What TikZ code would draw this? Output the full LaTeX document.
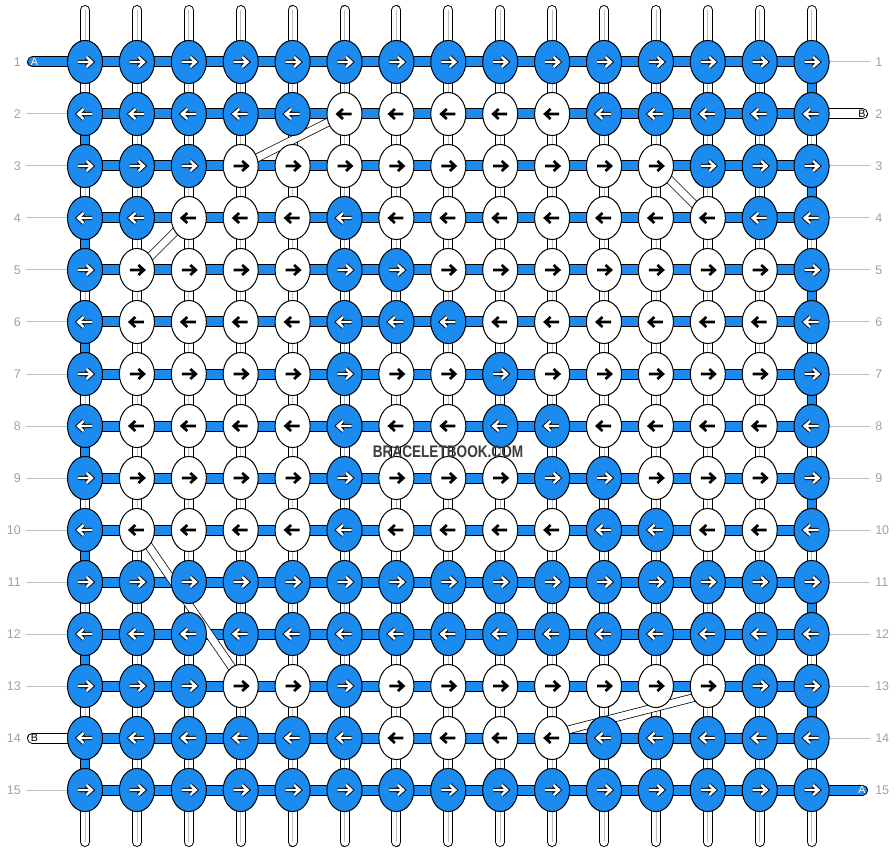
\documentclass[tikz,border=0pt]{standalone}
\usepackage{fontspec}
\usepackage{graphicx}
\setmainfont{Liberation Sans}
\usetikzlibrary{calc,shapes.geometric}
\definecolor{knotblue}{RGB}{28,139,240}
\definecolor{numgrey}{RGB}{160,160,160}
\definecolor{rulegrey}{RGB}{190,190,190}
\definecolor{markgrey}{RGB}{60,60,60}
\tikzset{
  knot/.style={ellipse,draw=black,line width=0.75pt,minimum width=26.3pt,minimum height=32.3pt,inner sep=0pt},
  kb/.style={fill=knotblue},
  kw/.style={fill=white},
  arrb/.style={draw=black,line width=0.7pt,double=white,double distance=1.8pt},
  arrw/.style={draw=black,line width=2pt},
  vstring/.style={draw=black,line width=0.75pt,double=white,double distance=6pt,line cap=round},
  vlink/.style={draw=black,line width=0.75pt,double=knotblue,double distance=6pt},
  rowbar/.style={draw=black,line width=0.75pt,double=knotblue,double distance=6.75pt},
  rowtail/.style={draw=black,line width=0.75pt,double=#1,double distance=6.75pt,line cap=round},
  floatstrip/.style={draw=black,line width=0.55pt,double=white,double distance=5.3pt},
  rownum/.style={text=numgrey,font=\fontsize{9.4}{11}\selectfont,inner sep=0pt},
  tailtag/.style={font=\fontsize{8}{9}\selectfont,inner sep=0pt}
}
\begin{document}
\begin{tikzpicture}[x=0.75pt,y=-0.75pt,line join=miter]
\useasboundingbox (0,0) rectangle (896,852);
\foreach \r in {1,...,15}{
  \foreach \c in {1,...,15}{
    \coordinate (p-\r-\c) at ({85+51.9*(\c-1)},{62+52*(\r-1)});
  }
}
\foreach \c in {1,...,15}{
  \coordinate (top-\c) at ($(p-1-\c)+(0,-52)$);
  \coordinate (bot-\c) at ($(p-15-\c)+(0,52)$);
  \draw[vstring] (top-\c) -- (bot-\c);
  \draw[rulegrey,line width=0.6pt] (top-\c) -- (bot-\c);
}
\foreach \r in {1,...,15}{
  \node[rownum,anchor=east] (ln-\r) at (21,{62+52*(\r-1)}) {\r};
  \node[rownum,anchor=west] (rn-\r) at (875,{62+52*(\r-1)}) {\r};
  \coordinate (lg-\r) at (26,{62+52*(\r-1)});
  \coordinate (rg-\r) at (870,{62+52*(\r-1)});
  \ifnum\r>1 \ifnum\r=14 \else \draw[rulegrey,line width=0.75pt] (lg-\r) -- (p-\r-1); \fi\fi
  \ifnum\r=2 \else \ifnum\r=15 \else \draw[rulegrey,line width=0.75pt] (p-\r-15) -- (rg-\r); \fi\fi
}
\coordinate (tailA-in) at (32.5,62);
\coordinate (tailB-in) at (862.5,114);
\coordinate (tailB-out) at (32.5,738);
\coordinate (tailA-out) at (862.5,790);
\draw[rowtail=knotblue] (tailA-in) -- (p-1-1);
\draw[rowtail=white] (p-2-15) -- (tailB-in);
\draw[rowtail=white] (tailB-out) -- (p-14-1);
\draw[rowtail=knotblue] (p-15-15) -- (tailA-out);
\node[tailtag,text=white] (tagA-in) at (34.5,62) {A};
\node[tailtag] (tagB-in) at (862,114) {B};
\node[tailtag] (tagB-out) at (34.5,738) {B};
\node[tailtag,text=white] (tagA-out) at (862,790) {A};
\foreach \r in {1,...,15}{
  \foreach \c in {1,...,14}{
    \pgfmathtruncatemacro\nxt{\c+1}
    \draw[rowbar] (p-\r-\c) -- (p-\r-\nxt);
  }
}
\foreach \r in {1,3,...,13}{
  \pgfmathtruncatemacro\nxt{\r+1}
  \draw[vlink] (p-\r-15) -- (p-\nxt-15);
}
\foreach \r in {2,4,...,14}{
  \pgfmathtruncatemacro\nxt{\r+1}
  \draw[vlink] (p-\r-1) -- (p-\nxt-1);
}
\draw[floatstrip] (p-2-6) -- (p-3-4);
\draw[floatstrip] (p-3-12) -- (p-4-13);
\draw[floatstrip] (p-4-3) -- (p-5-2);
\draw[floatstrip] ($(p-10-2)+(5,6)$) -- ($(p-13-4)+(-3,-10)$);
\draw[floatstrip] ($(p-14-10)+(0,-4)$) -- ($(p-13-13)+(0,8)$);
\foreach \r/\pat in {
  1/{b,b,b,b,b,b,b,b,b,b,b,b,b,b,b},
  2/{b,b,b,b,b,w,w,w,w,w,b,b,b,b,b},
  3/{b,b,b,w,w,w,w,w,w,w,w,w,b,b,b},
  4/{b,b,w,w,w,b,w,w,w,w,w,w,w,b,b},
  5/{b,w,w,w,w,b,b,w,w,w,w,w,w,w,b},
  6/{b,w,w,w,w,b,b,b,w,w,w,w,w,w,b},
  7/{b,w,w,w,w,b,w,w,b,w,w,w,w,w,b},
  8/{b,w,w,w,w,b,w,w,b,b,w,w,w,w,b},
  9/{b,w,w,w,w,b,w,w,w,b,b,w,w,w,b},
  10/{b,w,w,w,w,b,w,w,w,w,b,b,w,w,b},
  11/{b,b,b,b,b,b,b,b,b,b,b,b,b,b,b},
  12/{b,b,b,b,b,b,b,b,b,b,b,b,b,b,b},
  13/{b,b,b,w,w,b,w,w,w,w,w,w,w,b,b},
  14/{b,b,b,b,b,b,w,w,w,w,b,b,b,b,b},
  15/{b,b,b,b,b,b,b,b,b,b,b,b,b,b,b}}{
  \pgfmathsetmacro\dir{ifthenelse(mod(\r,2)==1,1,-1)}
  \foreach \col [count=\c] in \pat {
    \node[knot,k\col] (k-\r-\c) at (p-\r-\c) {};
    \draw[arr\col,shift={(k-\r-\c.center)},xscale=\dir] (-7,0) -- (7,0) (1.5,-5) -- (7,0) -- (1.5,5);
  }
}
\node[text=markgrey,font=\bfseries\fontsize{12.6}{14}\selectfont] (mark) at (448,452) {\scalebox{0.81}[1]{BRACELETBOOK.COM}};
\end{tikzpicture}
\end{document}
